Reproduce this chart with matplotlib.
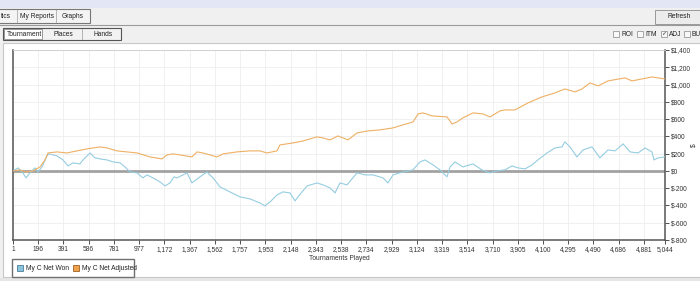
import matplotlib.pyplot as plt
from matplotlib.patches import Rectangle

# series (tournament number, $)
won_t = [1, 40, 78, 101, 132, 171, 194, 225, 264, 279, 341, 388, 426, 465, 519, 542,
         597, 635, 674, 728, 775, 829, 867, 906, 960, 1006, 1037, 1084, 1138, 1177,
         1215, 1246, 1269, 1347, 1385, 1447, 1501, 1548, 1602, 1679, 1757, 1834, 1911,
         1950, 1989, 2043, 2089, 2143, 2182, 2205, 2275, 2352, 2399, 2453, 2492, 2530,
         2584, 2662, 2724, 2785, 2863, 2901, 2940, 3017, 3095, 3149, 3188, 3250, 3304,
         3358, 3381, 3420, 3481, 3559, 3628, 3690, 3745, 3806, 3860, 3907, 3961, 4015,
         4061, 4131, 4193, 4247, 4270, 4309, 4363, 4410, 4479, 4541, 4603, 4658, 4720,
         4774, 4836, 4890, 4943, 4959, 4990, 5044]
won_v = [0, 35, -23, -81, -23, 35, -12, 46, 174, 197, 174, 127, 58, 93, 81, 127,
         208, 151, 139, 127, 104, 93, 46, -12, -23, -81, -46, -81, -127, -174,
         -139, -69, -81, -23, -139, -69, -12, -81, -185, -243, -301, -324, -371,
         -405, -359, -278, -243, -255, -347, -301, -174, -139, -162, -197, -255, -139,
         -162, -23, -46, -46, -81, -139, -46, -12, 12, 104, 127, 69, 12,
         -69, 46, 104, 46, 81, 12, -23, 0, 12, 58, 35, 23, 69,
         127, 208, 266, 278, 336, 278, 162, 243, 278, 151, 243, 232, 313,
         220, 208, 266, 220, 127, 151, 162]

adj_t = [1, 55, 101, 156, 210, 248, 272, 341, 419, 496, 573, 674, 728, 805, 883, 960,
         1060, 1153, 1192, 1238, 1293, 1385, 1424, 1470, 1579, 1625, 1733, 1834, 1911,
         1965, 2043, 2066, 2167, 2244, 2352, 2399, 2453, 2515, 2592, 2662, 2747, 2839,
         2940, 3017, 3095, 3134, 3172, 3242, 3358, 3397, 3435, 3481, 3559, 3636, 3690,
         3768, 3806, 3884, 3984, 4092, 4193, 4270, 4348, 4402, 4464, 4526, 4603, 4735,
         4789, 4866, 4943, 4990, 5044]
adj_v = [0, 12, -12, 0, 46, 127, 208, 220, 208, 232, 255, 278, 266, 232, 220, 208,
         162, 139, 185, 197, 185, 162, 220, 208, 162, 197, 220, 232, 232,
         208, 232, 301, 324, 347, 394, 382, 359, 405, 359, 440, 463, 475,
         498, 533, 567, 660, 672, 637, 625, 544, 567, 614, 672, 660, 625,
         695, 706, 706, 787, 857, 903, 949, 915, 949, 1019, 984, 1042, 1077,
         1042, 1065, 1088, 1077, 1065]

xtick_vals = [1, 196, 391, 586, 781, 977, 1172, 1367, 1562, 1757, 1953, 2148, 2343,
              2538, 2734, 2929, 3124, 3319, 3514, 3710, 3905, 4100, 4295, 4490, 4686,
              4881, 5044]
ytick_vals = list(range(-800, 1401, 200))

W, H = 700, 281
plt.rcParams['font.family'] = ['Liberation Sans', 'DejaVu Sans']
fig = plt.figure(figsize=(W / 100, H / 100), dpi=100)
fig.patch.set_facecolor('#f0f0f0')
FS = 4.8


def box(x, y, w, h, z=1, **kw):
    fig.add_artist(Rectangle((x / W, 1 - (y + h) / H), w / W, h / H,
                             transform=fig.transFigure, zorder=z, **kw))


def txt(x, y, s, **kw):
    fig.text(x / W, 1 - y / H, s, va='center', zorder=20, **kw)


def hline(x0, x1, y, **kw):
    fig.add_artist(plt.Line2D([x0 / W, x1 / W], [1 - y / H, 1 - y / H],
                              transform=fig.transFigure, **kw))


def vline(x, y0, y1, **kw):
    fig.add_artist(plt.Line2D([x / W, x / W], [1 - y0 / H, 1 - y1 / H],
                              transform=fig.transFigure, zorder=3, **kw))


# window chrome
box(0, 0, W, 8, z=-5, facecolor='#e3e6f4', edgecolor='none')
box(-2, 9, 92, 14, z=-5, facecolor='#f4f4f4', edgecolor='#777777', lw=0.8)
vline(17, 10, 22, color='#aaaaaa', lw=0.6)
vline(56, 10, 22, color='#aaaaaa', lw=0.6)
txt(1, 16, 'tics', fontsize=FS, color='#222222')
txt(20, 16, 'My Reports', fontsize=FS, color='#222222')
txt(62, 16, 'Graphs', fontsize=FS, color='#222222')
box(655, 10, 50, 14, z=-5, facecolor='#ececec', edgecolor='#999999', lw=0.7)
txt(667, 17, 'Refresh', fontsize=FS, color='#222222')
hline(0, W, 25, color='#9a9a9a', lw=0.8, zorder=-4)

box(3, 28, 118, 12, z=-5, facecolor='#f2f2f2', edgecolor='#555555', lw=0.8)
box(4, 29, 38, 10, z=-4, facecolor='#ffffff', edgecolor='#888888', lw=0.6)
vline(82, 29, 39, color='#aaaaaa', lw=0.6)
txt(7, 34, 'Tournament', fontsize=FS, color='#222222')
txt(54, 34, 'Places', fontsize=FS, color='#222222')
txt(94, 34, 'Hands', fontsize=FS, color='#222222')
for cx, lab in [(613, 'ROI'), (637, 'ITM'), (661, 'ADJ'), (684, 'BUY')]:
    box(cx, 31, 6, 6, z=-4, facecolor='#f8f8f8', edgecolor='#999999', lw=0.6)
    txt(cx + 8, 34, lab, fontsize=FS, color='#222222')
txt(661.5, 34, '\u2713', fontsize=4.5, color='#333333')

box(3, 43, 700, 234, z=-3, facecolor='white', edgecolor='#c8c8c8', lw=0.8)
box(0, 278, W, 3, z=-3, facecolor='#e6e6e6', edgecolor='none')

# chart
ax = fig.add_axes([13 / W, 1 - 240 / H, 652 / W, 190 / H])
ax.set_zorder(5)
ax.set_facecolor('white')
ax.grid(True, color='#eeeeee', lw=0.6)
ax.set_axisbelow(True)
ax.axhline(0, color='#a2a2a2', lw=2, zorder=2)
ax.plot(won_t, won_v, color='#95cde0', lw=0.8, zorder=3)
ax.plot(adj_t, adj_v, color='#eeb064', lw=0.8, zorder=3)
ax.set_xlim(1, 5044)
ax.set_ylim(-800, 1400)
ax.set_xticks(xtick_vals)
ax.set_xticklabels([f'{v:,}' for v in xtick_vals])
ax.yaxis.tick_right()
ax.set_yticks(ytick_vals)
ax.set_yticklabels([f'${v:,}' for v in ytick_vals])
ax.tick_params(labelsize=FS, length=3, width=0.6, colors='#333333', pad=1.5)
for side in ['left', 'bottom', 'right']:
    ax.spines[side].set_color('#555555')
    ax.spines[side].set_linewidth(1.1)
ax.spines['top'].set_color('#cccccc')
ax.spines['top'].set_linewidth(0.6)
ax.set_xlabel('Tournaments Played', fontsize=FS, color='#333333', labelpad=1)
txt(694, 145, '$', fontsize=FS, color='#333333', rotation=90, ha='center')

# legend
box(12, 259, 122, 18, z=6, facecolor='white', edgecolor='#707070', lw=1)
box(17, 265, 6, 6, z=7, facecolor='#8cc4dc', edgecolor='#4a7f99', lw=0.6)
txt(26, 268, 'My C Net Won', fontsize=FS, color='#222222')
box(73, 265, 6, 6, z=7, facecolor='#eea24c', edgecolor='#a06020', lw=0.6)
txt(82, 268, 'My C Net Adjusted', fontsize=FS, color='#222222')

fig.savefig('out.png', dpi=100)
